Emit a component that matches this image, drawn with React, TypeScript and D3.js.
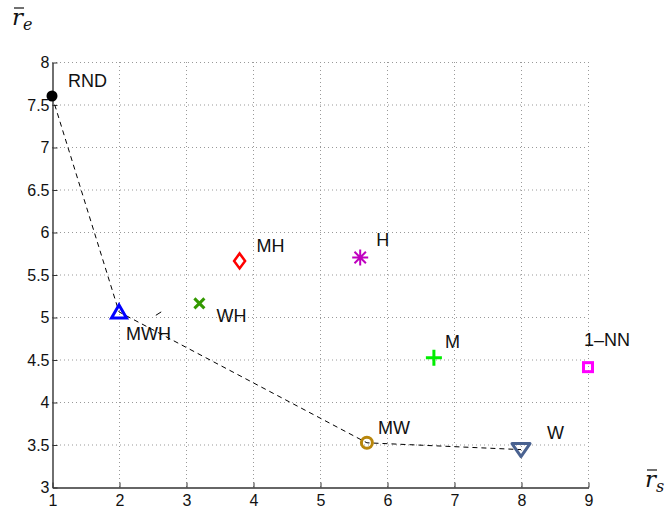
import React, { useEffect, useRef } from 'react'
import * as d3 from 'd3'

const names = ['RND', 'MWH', 'WH', 'MH', 'H', 'M', '1\u2013NN', 'MW', 'W']
const rs = [1, 2, 3.2, 3.8, 5.6, 6.7, 9, 5.7, 8]
const re = [7.6, 5.06, 5.16, 5.66, 5.7, 4.52, 4.41, 3.52, 3.44]
const colors = ['#000000', '#0000ff', '#339900', '#ff0000', '#bf00bf', '#00ee00', '#ff00ff', '#b8860b', '#4a6290']
const shapes = ['dot', 'triUp', 'cross', 'diamond', 'star', 'plus', 'square', 'circle', 'triDown']
// label offsets in pixels (dx, dy)
const labelDx = [16, 7, 17, 17, 16, 11, -4, 11, 26]
const labelDy = [-9, 28, 19, -9, -12, -10, -21, -9, -11]

const frontier = ['RND', 'MWH', 'MW', 'W']
const strayDash = [[2.55, 5.02], [2.63, 5.06]]

const xTicks = [1, 2, 3, 4, 5, 6, 7, 8, 9]
const yTicks = [3, 3.5, 4, 4.5, 5, 5.5, 6, 6.5, 7, 7.5, 8]

const ScatterChart = () => {
  const ref = useRef<SVGSVGElement>(null)

  useEffect(() => {
    const svg = d3.select(ref.current)
    svg.selectAll('*').remove()

    const x = d3.scaleLinear().domain([1, 9]).range([52, 588])
    const y = d3.scaleLinear().domain([3, 8]).range([487, 62])
    const font = 'Liberation Sans, Arial, sans-serif'

    // grid
    const grid = svg.append('g').attr('stroke', '#999').attr('stroke-width', 1)
      .attr('stroke-dasharray', '1,3')
    grid.selectAll('.gx').data(xTicks.slice(1)).enter().append('line')
      .attr('x1', d => x(d) + 0.5).attr('x2', d => x(d) + 0.5)
      .attr('y1', y(3)).attr('y2', y(8))
    grid.selectAll('.gy').data(yTicks.slice(1)).enter().append('line')
      .attr('y1', d => y(d) + 0.5).attr('y2', d => y(d) + 0.5)
      .attr('x1', x(1)).attr('x2', x(9))

    // axes
    const xAxis = d3.axisBottom(x).tickValues(xTicks).tickSize(-5).tickSizeOuter(0).tickPadding(7)
    const yAxis = d3.axisLeft(y).tickValues(yTicks).tickSize(-5).tickSizeOuter(0).tickPadding(3)
      .tickFormat(d3.format('~g'))
    const gx = svg.append('g').attr('transform', `translate(0.5, ${y(3) + 0.5})`).call(xAxis)
    const gy = svg.append('g').attr('transform', `translate(${x(1) + 0.5}, 0.5)`).call(yAxis)
    for (const g of [gx, gy]) {
      g.selectAll('path').attr('stroke', '#333').attr('stroke-width', 1.4)
      g.selectAll('line').attr('stroke', '#333')
      g.selectAll('text').attr('font-family', font).attr('font-size', 16).attr('fill', '#111')
    }
    gx.selectAll('text').attr('dy', '0.71em')

    // dashed frontier
    const idx = frontier.map(n => names.indexOf(n))
    const line = d3.line<number>().x(i => x(rs[i])).y(i => y(re[i]))
    svg.append('path').attr('d', line(idx)).attr('fill', 'none')
      .attr('stroke', '#000').attr('stroke-width', 1).attr('stroke-dasharray', '5,4')
    svg.append('path').attr('d', d3.line()(strayDash.map(p => [x(p[0]), y(p[1])] as [number, number])))
      .attr('stroke', '#000').attr('stroke-width', 1)

    // markers
    names.forEach((n, i) => {
      const cx = x(rs[i]), cy = y(re[i]), c = colors[i]
      const g = svg.append('g').attr('transform', `translate(${cx},${cy})`)
      const s = shapes[i]
      if (s === 'dot') g.append('circle').attr('r', 5.5).attr('fill', c)
      if (s === 'circle') g.append('circle').attr('r', 5.5).attr('fill', 'none').attr('stroke', c).attr('stroke-width', 3)
      if (s === 'triUp') g.append('path').attr('d', 'M0,-7L7.5,6L-7.5,6Z').attr('fill', 'none').attr('stroke', c).attr('stroke-width', 3)
      if (s === 'triDown') g.append('path').attr('d', 'M0,7L9,-6L-9,-6Z').attr('fill', 'none').attr('stroke', c).attr('stroke-width', 3).attr('stroke-linejoin', 'round')
      if (s === 'diamond') g.append('path').attr('d', 'M0,-7.5L5.5,0L0,7.5L-5.5,0Z').attr('fill', 'none').attr('stroke', c).attr('stroke-width', 2.5)
      if (s === 'square') g.append('rect').attr('x', -4.5).attr('y', -4.5).attr('width', 9).attr('height', 9).attr('fill', 'none').attr('stroke', c).attr('stroke-width', 3)
      if (s === 'plus') g.append('path').attr('d', 'M-8,0H8M0,-8V8').attr('stroke', c).attr('stroke-width', 3)
      if (s === 'cross') g.append('path').attr('d', 'M-5,-5L5,5M5,-5L-5,5').attr('stroke', c).attr('stroke-width', 3)
      if (s === 'star') g.append('path').attr('d', 'M-8,0H8M0,-8V8M-5.7,-5.7L5.7,5.7M5.7,-5.7L-5.7,5.7').attr('stroke', c).attr('stroke-width', 2)
      svg.append('text').attr('x', cx + labelDx[i]).attr('y', cy + labelDy[i])
        .attr('font-family', font).attr('font-size', 18).attr('fill', '#111').text(n)
    })

    // axis titles
    const rbar = (tx: number, ty: number, sub: string) => {
      const t = svg.append('text').attr('x', tx).attr('y', ty)
        .attr('font-family', 'DejaVu Serif, Liberation Serif, serif').attr('font-style', 'italic')
        .attr('font-size', 23).attr('fill', '#111')
      t.append('tspan').text('r')
      t.append('tspan').attr('font-size', 16).attr('dy', 5).text(sub)
      svg.append('line').attr('x1', tx + 2).attr('x2', tx + 12).attr('y1', ty - 17).attr('y2', ty - 17)
        .attr('stroke', '#111').attr('stroke-width', 1.2)
    }
    rbar(12, 25, 'e')
    rbar(645, 487, 's')
  }, [])

  return <svg ref={ref} width={670} height={510} style={{ position: 'absolute', left: 0, top: 0, background: '#fff' }} />
}

export default function App() {
  return <ScatterChart />
}
